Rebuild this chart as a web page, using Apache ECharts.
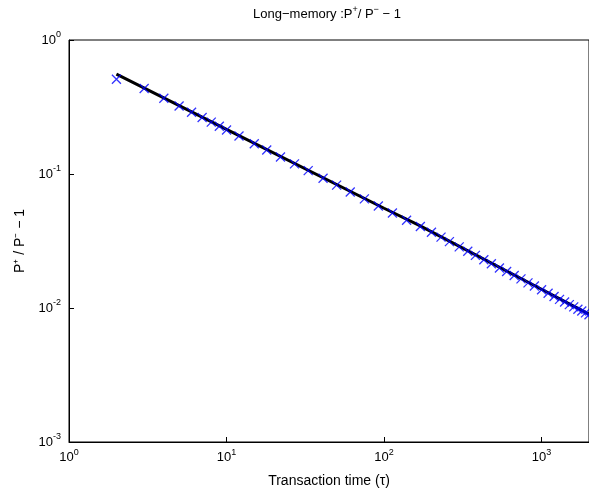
<!DOCTYPE html>
<html><head><meta charset="utf-8">
<script src="https://cdn.jsdelivr.net/npm/echarts@6/dist/echarts.min.js"></script>
<style>html,body{margin:0;background:#fff}#c{width:589px;height:494px}</style>
</head><body><div id="c"></div>
<script>
// crosses (measured points)
let tau = [2,3,4,5,6,7,8,9,10,12,15,18,22,27,33,41,50,61,75,92,113,139,170,200,230,260,300,340,380,430,480,540,600,670,740,820,900,1000,1100,1200,1300,1400,1500,1600,1700,1800,1900,2000];
let ratio = [0.51,0.435,0.368,0.322,0.289,0.264,0.244,0.227,0.213,0.192,0.168,0.151,0.134,0.119,0.106,0.093,0.0826,0.0735,0.0652,0.0577,0.0512,0.0452,0.0406,0.0368,0.0338,0.0313,0.0286,0.0265,0.0247,0.0229,0.0214,0.0199,0.0187,0.0175,0.0165,0.0154,0.0146,0.0137,0.0129,0.0122,0.0116,0.0111,0.0106,0.0102,0.0098,0.0095,0.0092,0.0089];
// fitted black line
let fitTau = [2,10,100,166,1000,2000];
let fitVal = [0.557,0.215,0.0555,0.0415,0.0138,0.009];

let myChart = echarts.init(document.getElementById('c'));
function pow10(v) {
    let e = Math.round(Math.log10(v));
    return '{b|10}{s|' + e + '}';
}
let rich = {
    b: {fontSize: 13, fontFamily: 'Liberation Sans', color: '#000'},
    s: {fontSize: 9, fontFamily: 'Liberation Sans', color: '#000', padding: [0, 0, 10, 0]}
};
let option = {
    animation: false,
    title: {
        text: '{n|Long−memory :P}{s|+}{n|/ P}{s|−}{n| − 1}',
        left: 322, top: 0, textAlign: 'center',
        textStyle: {fontWeight: 'normal', rich: {
            n: {fontSize: 13, fontWeight: 'normal', fontFamily: 'Liberation Sans', color: '#000'},
            s: {fontSize: 9, fontWeight: 'normal', fontFamily: 'Liberation Sans', color: '#000', padding: [0, 0, 10, 0]}
        }}
    },
    grid: {left: 69, top: 40, right: 0, bottom: 52, show: true, borderColor: '#000', borderWidth: 1},
    xAxis: {
        type: 'log', min: 1, max: 2000, logBase: 10,
        name: 'Transaction time (τ)', nameLocation: 'middle', nameGap: 32,
        nameTextStyle: {fontSize: 14, fontFamily: 'Liberation Sans', color: '#000'},
        axisLine: {lineStyle: {color: '#000'}},
        axisTick: {inside: true, length: 5, lineStyle: {color: '#000'}},
        splitLine: {show: false},
        axisLabel: {formatter: pow10, rich: rich, margin: 6, showMaxLabel: false}
    },
    yAxis: {
        type: 'log', min: 0.001, max: 1, logBase: 10,
        name: 'P⁺ / P⁻ − 1', nameLocation: 'middle', nameGap: 42,
        nameTextStyle: {fontSize: 14, fontFamily: 'Liberation Sans', color: '#000'},
        axisLine: {lineStyle: {color: '#000'}},
        axisTick: {inside: true, length: 5, lineStyle: {color: '#000'}},
        splitLine: {show: false},
        axisLabel: {formatter: pow10, rich: rich, margin: 8}
    },
    series: [
        {
            type: 'line',
            data: fitTau.map((t, i) => [t, fitVal[i]]),
            showSymbol: false,
            lineStyle: {color: '#000', width: 3},
            z: 1
        },
        {
            type: 'scatter',
            data: tau.map((t, i) => [t, ratio[i]]),
            symbol: 'path://M0,0L10,10M10,0L0,10',
            symbolSize: 9,
            itemStyle: {color: 'none', borderColor: '#0000ff', borderWidth: 1.3},
            z: 3
        }
    ]
};
myChart.setOption(option);
</script>
</body></html>
